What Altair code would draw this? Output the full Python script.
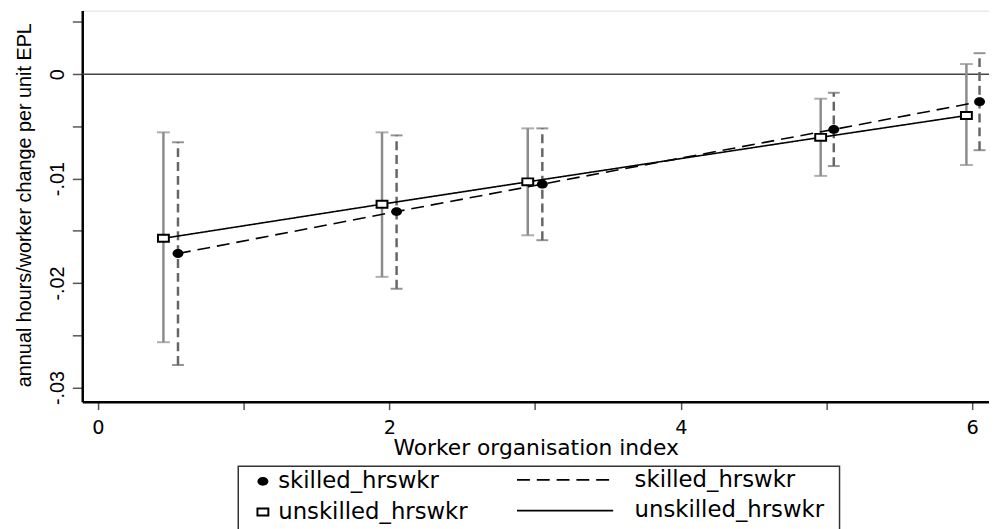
import altair as alt
import pandas as pd

# ---- data ----
x_unskilled = [0.45, 1.95, 2.95, 4.96, 5.96]
y_unskilled = [-0.01572, -0.01245, -0.01031, -0.00605, -0.00396]
lo_unskilled = [-0.02567, -0.01941, -0.01543, -0.00974, -0.00870]
hi_unskilled = [-0.00557, -0.00557, -0.00519, -0.00235, 0.00097]

x_skilled = [0.55, 2.05, 3.05, 5.05, 6.05]
y_skilled = [-0.01718, -0.01316, -0.01053, -0.00529, -0.00264]
lo_skilled = [-0.02785, -0.02055, -0.01590, -0.00880, -0.00728]
hi_skilled = [-0.00652, -0.00586, -0.00519, -0.00178, 0.00201]

series_names = ["skilled_hrswkr", "unskilled_hrswkr"]
line_keys = ["skilled_line", "unskilled_line"]
x_ticks = [0, 1, 2, 3, 4, 5, 6]
y_ticks = [0.005, 0, -0.005, -0.01, -0.015, -0.02, -0.025, -0.03]

x_title = "Worker organisation index"
y_title = "annual hours/worker change per unit EPL"

rows = []
for i in range(len(x_skilled)):
    rows.append(dict(series=series_names[0], line=line_keys[0], x=x_skilled[i], y=y_skilled[i],
                     lo=lo_skilled[i], hi=hi_skilled[i]))
for i in range(len(x_unskilled)):
    rows.append(dict(series=series_names[1], line=line_keys[1], x=x_unskilled[i], y=y_unskilled[i],
                     lo=lo_unskilled[i], hi=hi_unskilled[i]))
df = pd.DataFrame(rows)

VFONT = "Liberation Sans"   # rotated (vertical) text
HFONT = "DejaVu Sans"       # horizontal text (reference is horizontally stretched)
HSIZE = 23
W, H = 916, 395
xdom = [-0.107, 6.115]
ydom = [-0.03136, 0.006085]

xs = alt.Scale(domain=xdom, nice=False, zero=False)
ys = alt.Scale(domain=ydom, nice=False, zero=False)

x_axis = alt.Axis(
    values=x_ticks, title=x_title, grid=False,
    labelExpr="datum.value % 2 == 0 ? toString(datum.value) : ''",
    domainColor="black", domainWidth=2.5, tickColor="#555555", tickWidth=1.5,
    tickSize=8, labelFontSize=19.5, labelFont=HFONT, labelColor="black",
    labelBaseline="alphabetic", labelPadding=24,
    titleFont=HFONT, titleFontSize=22, titleFontWeight="normal", titleColor="black",
    titleY=53, titleBaseline="alphabetic", labelFlush=False,
)
y_axis = alt.Axis(
    values=y_ticks, title=y_title, grid=False,
    labelExpr="abs(datum.value*100 - round(datum.value*100)) > 0.001 ? '' : (datum.value == 0 ? '0' : '-.0' + toString(round(-datum.value*100)))",
    labelAngle=-90, labelAlign="center", labelBaseline="alphabetic", labelPadding=9,
    domainColor="black", domainWidth=2.5, tickColor="#555555", tickWidth=1.5,
    tickSize=10, labelFontSize=20, labelFont=VFONT, labelColor="black",
    labelOverlap=False, labelFlush=False,
    titleFont=VFONT, titleFontSize=20, titleFontWeight="normal", titleColor="black",
    titleX=-58, titleY=196, titleAlign="center", titleBaseline="middle",
)

base = alt.Chart(df)

zero = alt.Chart(pd.DataFrame({"y": [0]})).mark_rule(color="#444444", strokeWidth=1.5).encode(
    y=alt.Y("y:Q", scale=ys, axis=y_axis)
)

bars_u = base.transform_filter(alt.datum.series == series_names[1]).mark_rule(
    color="#8c8c8c", strokeWidth=2.5
).encode(x=alt.X("x:Q", scale=xs, axis=x_axis), y=alt.Y("lo:Q", scale=ys), y2="hi:Q")
bars_s = base.transform_filter(alt.datum.series == series_names[0]).mark_rule(
    color="#666666", strokeWidth=2.5, strokeDash=[9, 5]
).encode(x=alt.X("x:Q", scale=xs), y=alt.Y("lo:Q", scale=ys), y2="hi:Q")

caps = []
for fld in ["lo", "hi"]:
    caps.append(base.transform_filter(alt.datum.series == series_names[1]).mark_tick(
        orient="horizontal", color="#8c8c8c", size=13, thickness=2
    ).encode(x=alt.X("x:Q", scale=xs), y=alt.Y(f"{fld}:Q", scale=ys)))
    caps.append(base.transform_filter(alt.datum.series == series_names[0]).mark_tick(
        orient="horizontal", color="#666666", size=12, thickness=2
    ).encode(x=alt.X("x:Q", scale=xs), y=alt.Y(f"{fld}:Q", scale=ys)))

line_symbol = "M-1,0L8,0"

lines = base.mark_line(color="black", strokeWidth=1.6).encode(
    x=alt.X("x:Q", scale=xs),
    y=alt.Y("y:Q", scale=ys),
    detail="line:N",
    strokeDash=alt.StrokeDash(
        "line:N",
        scale=alt.Scale(domain=line_keys, range=[[13, 7], [1, 0]]),
        legend=alt.Legend(
            orient="none", legendX=438, legendY=462, title=None, padding=0,
            symbolType=line_symbol, symbolSize=466, symbolStrokeColor="black",
            symbolStrokeWidth=1.8, labelFont=HFONT, labelFontSize=HSIZE,
            labelColor="black", labelOffset=96, rowPadding=7, labelLimit=400,
            labelExpr="datum.label == 'skilled_line' ? 'skilled_hrswkr' : 'unskilled_hrswkr'",
        ),
    ),
)

# filled symbol paths (the square is an outline ring, filled)
dot_path = "M-0.846,0A0.846,0.692,0,1,0,0.846,0A0.846,0.692,0,1,0,-0.846,0Z"
ring_path = ("M-1,-0.692L1,-0.692L1,0.692L-1,0.692Z"
             "M-0.692,-0.385L-0.692,0.385L0.692,0.385L0.692,-0.385Z")
sq_fill_path = "M-0.75,-0.45L0.75,-0.45L0.75,0.45L-0.75,0.45Z"

pt_legend = alt.Legend(
    orient="none", legendX=171, legendY=464, title=None, padding=0,
    symbolSize=169, symbolStrokeWidth=0,
    labelFont=HFONT, labelFontSize=HSIZE, labelColor="black",
    labelOffset=4, rowPadding=7, labelLimit=400,
)

square_bg = base.transform_filter(alt.datum.series == series_names[1]).mark_point(
    filled=True, color="white", size=169, shape=sq_fill_path, opacity=1
).encode(x=alt.X("x:Q", scale=xs), y=alt.Y("y:Q", scale=ys))

points = base.mark_point(filled=True, color="black", size=169, strokeWidth=0, opacity=1).encode(
    x=alt.X("x:Q", scale=xs),
    y=alt.Y("y:Q", scale=ys),
    shape=alt.Shape(
        "series:N",
        scale=alt.Scale(domain=series_names, range=[dot_path, ring_path]),
        legend=pt_legend,
    ),
)

box = alt.Chart(pd.DataFrame({"a": [0]})).mark_rect(
    fill="transparent", stroke="#333333", strokeWidth=1.5
).encode(x=alt.value(157.6), x2=alt.value(765), y=alt.value(460.3), y2=alt.value(540))

chart = alt.layer(zero, bars_u, bars_s, *caps, lines, square_bg, points, box).properties(
    width=W, height=H,
    autosize=alt.AutoSizeParams(type="none"),
    padding={"left": 75, "top": 0, "right": 0, "bottom": 126},
).configure_view(stroke="#444444", strokeWidth=2).configure(background="white")

chart.save("out.html", embed_options={"renderer": "svg", "actions": False})
